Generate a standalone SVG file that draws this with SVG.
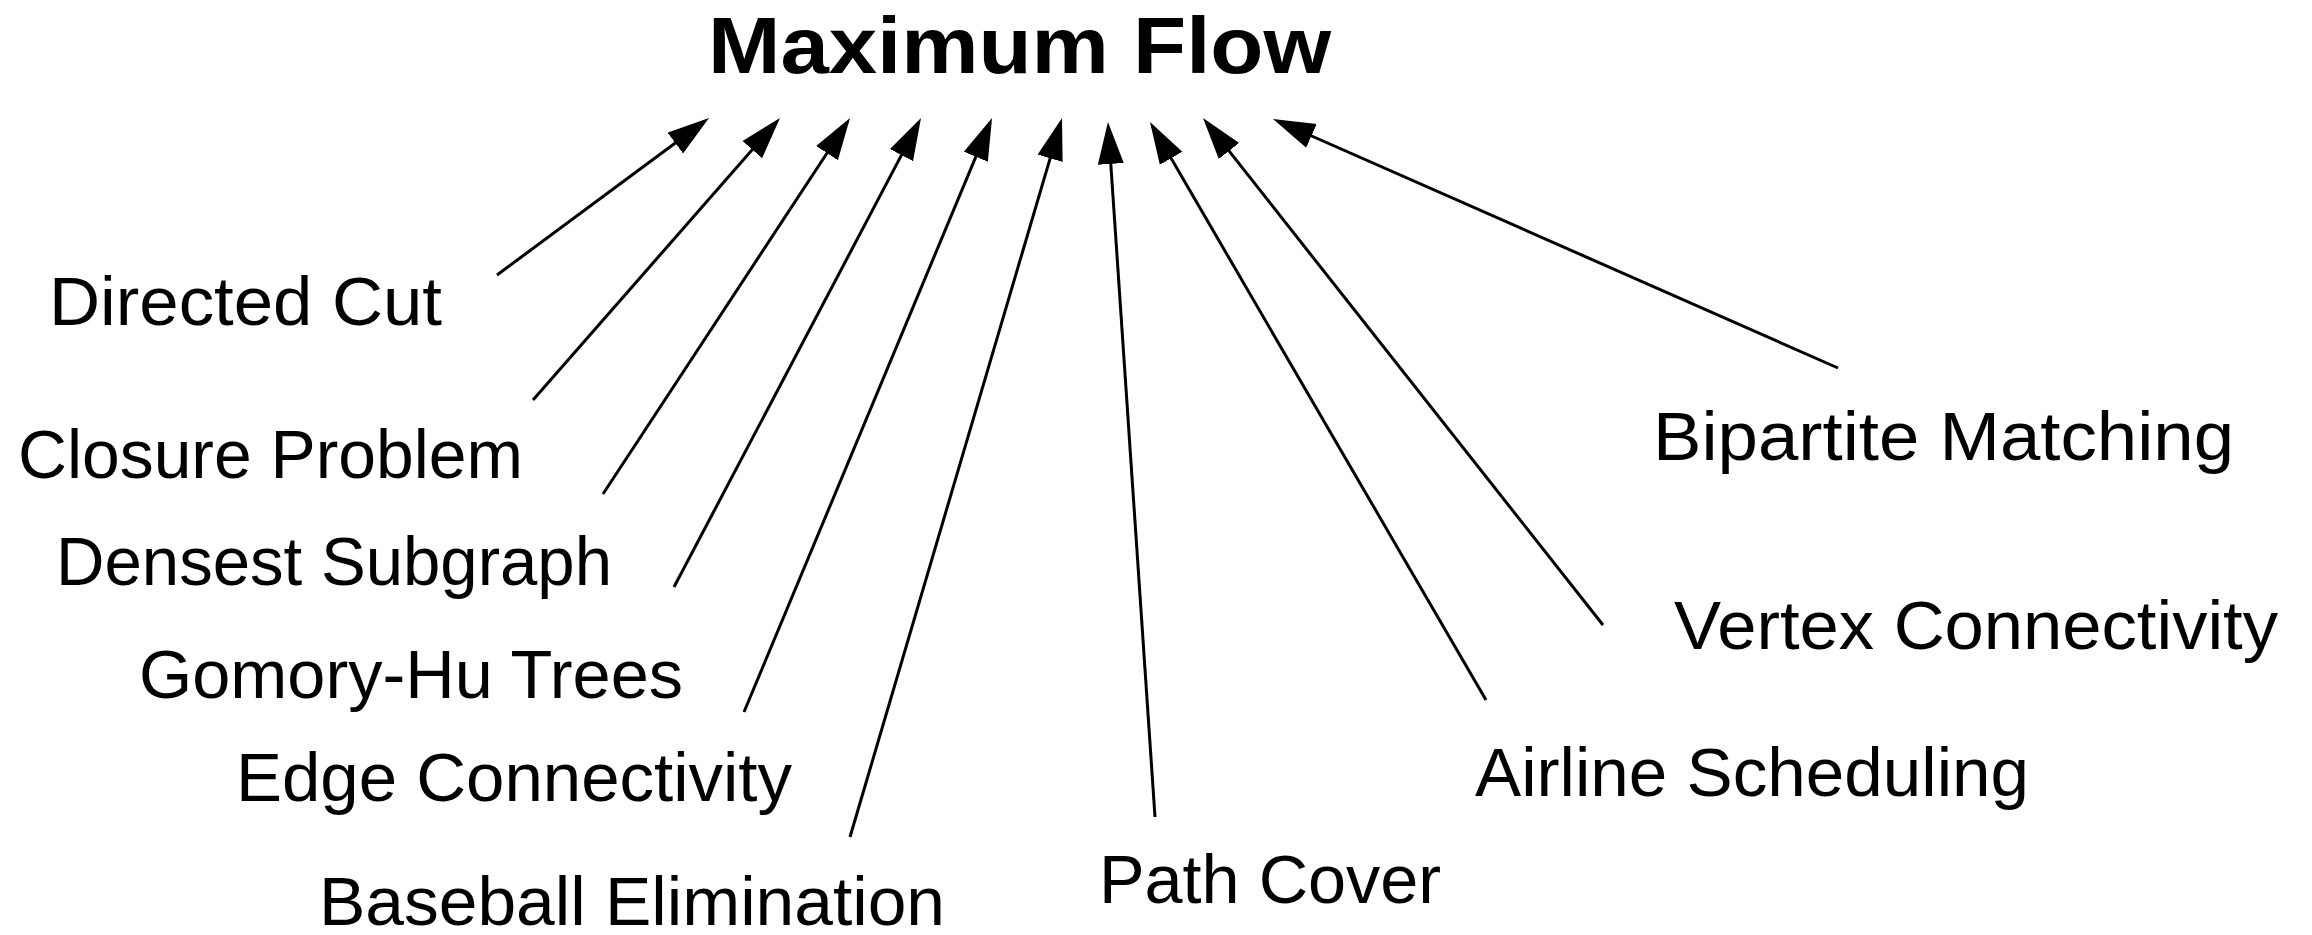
<svg xmlns="http://www.w3.org/2000/svg" width="2312" height="935" viewBox="0 0 2312 935">
  <style>
    .title { font-family: "Liberation Sans", Arial, sans-serif; font-weight: bold; font-size: 80px; fill: #000; }
    .label { font-family: "Liberation Sans", Arial, sans-serif; font-size: 68px; fill: #000; }
    .edge { stroke: #000; stroke-width: 3; fill: none; marker-end: url(#head); }
  </style>
  <defs>
    <marker id="head" markerUnits="userSpaceOnUse" markerWidth="44" markerHeight="28" refX="37" refY="13" orient="auto">
      <path d="M0,0 L42,13 L0,26 Z" fill="#000"/>
    </marker>
  </defs>
  <rect width="2312" height="935" fill="#fff"/>

  <g id="maximum-flow">
    <text class="title" x="708" y="73" textLength="623" lengthAdjust="spacingAndGlyphs">Maximum Flow</text>
  </g>

  <g id="connectors">
    <line class="edge" x1="497" y1="275" x2="705" y2="121"/>
    <line class="edge" x1="533" y1="400" x2="776.7" y2="121.8"/>
    <line class="edge" x1="603" y1="494" x2="847.3" y2="122.2"/>
    <line class="edge" x1="674" y1="587" x2="918.7" y2="122.4"/>
    <line class="edge" x1="744" y1="712" x2="990.1" y2="122.6"/>
    <line class="edge" x1="850" y1="837" x2="1060.6" y2="122.8"/>
    <line class="edge" x1="1155" y1="817" x2="1108.3" y2="127"/>
    <line class="edge" x1="1486" y1="700" x2="1152.5" y2="126.3"/>
    <line class="edge" x1="1603" y1="625" x2="1206.1" y2="121.9"/>
    <line class="edge" x1="1838" y1="368" x2="1277.6" y2="121"/>
  </g>

  <g id="directed-cut"><text class="label" x="49" y="325" textLength="393" lengthAdjust="spacingAndGlyphs">Directed Cut</text></g>
  <g id="closure-problem"><text class="label" x="18" y="478" textLength="505" lengthAdjust="spacingAndGlyphs">Closure Problem</text></g>
  <g id="densest-subgraph"><text class="label" x="56" y="585" textLength="556" lengthAdjust="spacingAndGlyphs">Densest Subgraph</text></g>
  <g id="gomory-hu-trees"><text class="label" x="139" y="698" textLength="544" lengthAdjust="spacingAndGlyphs">Gomory-Hu Trees</text></g>
  <g id="edge-connectivity"><text class="label" x="236" y="801" textLength="556" lengthAdjust="spacingAndGlyphs">Edge Connectivity</text></g>
  <g id="baseball-elimination"><text class="label" x="319" y="925" textLength="626" lengthAdjust="spacingAndGlyphs">Baseball Elimination</text></g>
  <g id="path-cover"><text class="label" x="1099" y="903" textLength="342" lengthAdjust="spacingAndGlyphs">Path Cover</text></g>
  <g id="airline-scheduling"><text class="label" x="1475" y="796" textLength="554" lengthAdjust="spacingAndGlyphs">Airline Scheduling</text></g>
  <g id="vertex-connectivity"><text class="label" x="1674" y="649" textLength="604" lengthAdjust="spacingAndGlyphs">Vertex Connectivity</text></g>
  <g id="bipartite-matching"><text class="label" x="1653" y="460" textLength="581" lengthAdjust="spacingAndGlyphs">Bipartite Matching</text></g>
</svg>
